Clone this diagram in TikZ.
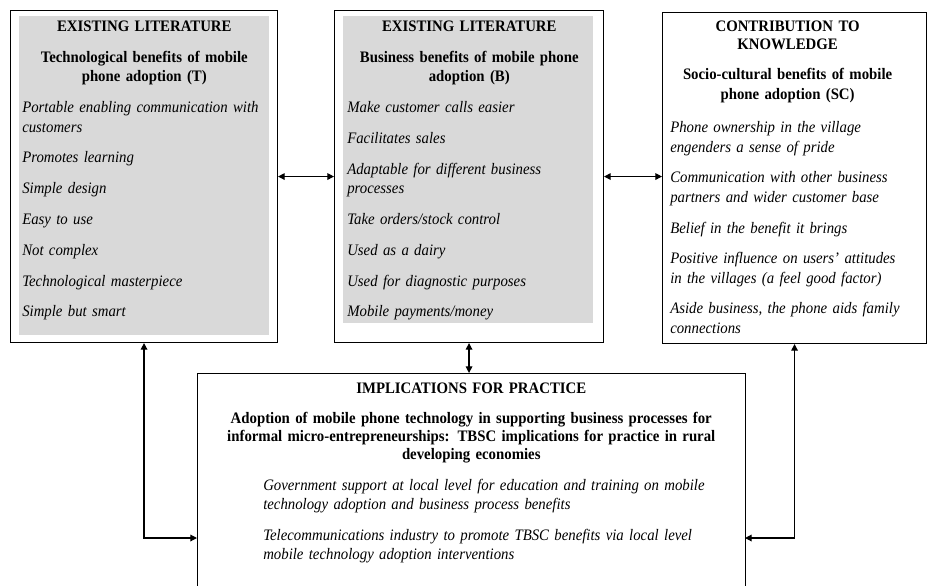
\documentclass[tikz,border=0pt]{standalone}
\usepackage{fontspec}
\setmainfont{Liberation Serif}[FakeStretch=0.925]
\usetikzlibrary{positioning, arrows.meta}

\tikzset{
  frame/.style={draw, line width=0.8pt, anchor=north west, inner sep=0pt},
  shade/.style={fill=gray!30, anchor=north west, inner sep=0pt},
  textbox/.style={anchor=north west, inner sep=0pt, align=left,
    font=\fontsize{12}{14.5}\selectfont,
    execute at begin node={\setlength{\parskip}{8.6pt}\hyphenpenalty=10000\exhyphenpenalty=10000}},
  link/.style={line width=0.9pt, {Triangle[length=5pt,width=5pt]}-{Triangle[length=5pt,width=5pt]}}
}
\newcommand{\head}[1]{{\centering\bfseries #1\par}}

\begin{document}
\begin{tikzpicture}[x=0.75pt,y=-0.75pt]
\useasboundingbox (0,0) rectangle (927,585);
\clip (0,0) rectangle (927,585);

%technological box
\node[frame, minimum width=200.25pt, minimum height=249pt] (T) at (10,10) {};
\node[shade, minimum width=187.5pt, minimum height=239.25pt] (Tshade) at (19,16) {};
\node[textbox, text width=183pt] (Ttext) at (22,21) {
  \head{EXISTING LITERATURE}
  \head{Technological benefits of mobile\\phone adoption (T)}
  \itshape
  Portable enabling communication with\\customers\par
  Promotes learning\par
  Simple design\par
  Easy to use\par
  Not complex\par
  Technological masterpiece\par
  Simple but smart\par};

%business box
\node[frame, minimum width=201.75pt, minimum height=249pt] (B) at (334,10) {};
\node[shade, minimum width=187.5pt, minimum height=230.25pt] (Bshade) at (343,16) {};
\node[textbox, text width=183pt] (Btext) at (347,21) {
  \head{EXISTING LITERATURE}
  \head{Business benefits of mobile phone\\adoption (B)}
  \itshape
  Make customer calls easier\par
  Facilitates sales\par
  Adaptable for different business\\processes\par
  Take orders/stock control\par
  Used as a dairy\par
  Used for diagnostic purposes\par
  Mobile payments/money\par};

%socio-cultural box
\node[frame, minimum width=198pt, minimum height=248.25pt] (SC) at (662,12) {};
\node[textbox, text width=176pt] (SCtext) at (670,21) {
  {\centering\bfseries\baselineskip=13pt CONTRIBUTION TO\\KNOWLEDGE\par}
  \head{Socio-cultural benefits of mobile\\phone adoption (SC)}
  \vspace{2pt}\itshape
  Phone ownership in the village\\engenders a sense of pride\par
  Communication with other business\\partners and wider customer base\par
  Belief in the benefit it brings\par
  Positive influence on users' attitudes\\in the villages (a feel good factor)\par
  Aside business, the phone aids family\\connections\par};

%practice box
\node[frame, minimum width=411pt, minimum height=170.25pt] (P) at (197,373) {};
\node[textbox, text width=384pt] (Ptext) at (215,383) {
  \head{IMPLICATIONS FOR PRACTICE}
  {\centering\bfseries\baselineskip=13.5pt Adoption of mobile phone technology in supporting business processes for\\
    informal micro-entrepreneurships: TBSC implications for practice in rural\\
    developing economies\par}
  \itshape\setlength{\leftskip}{36pt}
  Government support at local level for education and training on mobile\\
  technology adoption and business process benefits\par
  Telecommunications industry to promote TBSC benefits via local level\\
  mobile technology adoption interventions\par};

\coordinate (Pl) at (197,538);
\coordinate (Pr) at (745,538);

%arrows
\draw[link] (T.east) -- (B.west);
\draw[link] (B.east) -- (B.east -| SC.west);
\draw[link] (B.south) -- (B.south |- P.north);
\draw[link] (T.south) |- (Pl);
\draw[link] (SC.south) |- (Pr);
\end{tikzpicture}
\end{document}
